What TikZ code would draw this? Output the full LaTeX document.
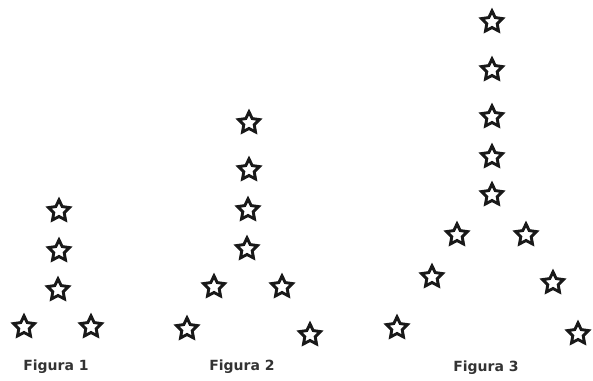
\documentclass[tikz,border=0pt]{standalone}
\usepackage{fontspec}
\setsansfont{DejaVu Sans}
\usepackage{tikz}
\usetikzlibrary{shapes.geometric}

\begin{document}
\begin{tikzpicture}[x=0.75pt, y=-0.75pt,
    estrela/.style={draw=black!90, star, star points=5, star point ratio=2.0, minimum size=16.5pt, inner sep=0pt, line width=2.2pt},
    legenda/.style={font=\sffamily\bfseries\fontsize{10.5}{12}\selectfont, text=black!80}]
    \useasboundingbox (0,0) rectangle (593,381);

    % Figura 1
    \node (a1) [estrela] at (59,211) {};
    \node (a2) [estrela] at (59,251) {};
    \node (a3) [estrela] at (58,290) {};
    \node (a4) [estrela] at (24,327) {};
    \node (a5) [estrela] at (91,327) {};
    \node (fig1) [legenda] at (56,367) {Figura 1};

    % Figura 2
    \node (b1) [estrela] at (249,123) {};
    \node (b2) [estrela] at (249,170) {};
    \node (b3) [estrela] at (248,210) {};
    \node (b4) [estrela] at (247,249) {};
    \node (b5) [estrela] at (214,287) {};
    \node (b6) [estrela] at (282,287) {};
    \node (b7) [estrela] at (187,329) {};
    \node (b8) [estrela] at (310,335) {};
    \node (fig2) [legenda] at (242,367) {Figura 2};

    % Figura 3
    \node (c1) [estrela] at (492,22) {};
    \node (c2) [estrela] at (492,70) {};
    \node (c3) [estrela] at (492,117) {};
    \node (c4) [estrela] at (492,157) {};
    \node (c5) [estrela] at (492,195) {};
    \node (c6) [estrela] at (457,235) {};
    \node (c7) [estrela] at (526,235) {};
    \node (c8) [estrela] at (432,277) {};
    \node (c9) [estrela] at (553,283) {};
    \node (c10) [estrela] at (397,328) {};
    \node (c11) [estrela] at (578,334) {};
    \node (fig3) [legenda] at (486,368) {Figura 3};
\end{tikzpicture}
\end{document}
